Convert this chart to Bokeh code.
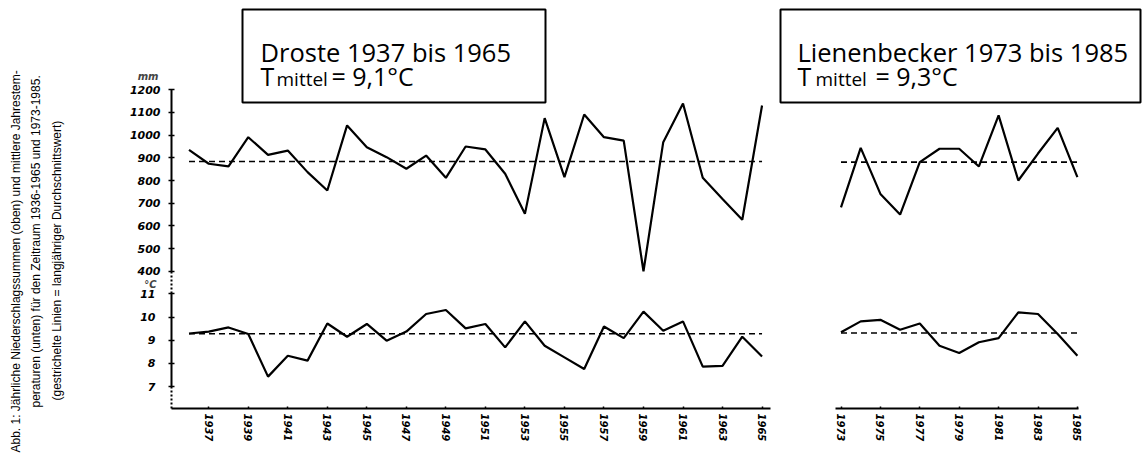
import math
from bokeh.plotting import figure
from bokeh.models import Range1d, LinearAxis, FixedTicker, Label, BoxAnnotation
from bokeh.embed import file_html
from bokeh.resources import INLINE

# ---------------- data ----------------
years_droste = list(range(1936, 1966))
precip_droste = [935, 874, 862, 991, 913, 932, 837, 756, 1043, 947,
                 903, 852, 910, 812, 950, 937, 830, 653, 1075, 815,
                 1091, 991, 976, 400, 969, 1140, 812, 719, 627, 1131]
temp_droste = [9.29, 9.37, 9.55, 9.27, 7.43, 8.33, 8.12, 9.72, 9.15, 9.70,
               8.98, 9.37, 10.13, 10.30, 9.51, 9.70, 8.69, 9.81, 8.76, 8.26,
               7.76, 9.59, 9.09, 10.23, 9.41, 9.81, 7.86, 7.89, 9.15, 8.30]

years_lien = list(range(1973, 1986))
precip_lien = [682, 944, 741, 650, 881, 940, 940, 862, 1087, 800, 919, 1032, 815]
temp_lien = [9.34, 9.81, 9.88, 9.45, 9.72, 8.76, 8.45, 8.91, 9.09, 10.20, 10.13, 9.27, 8.33]

mean_precip_droste = 884
mean_precip_lien = 881
mean_temp_droste = 9.28
mean_temp_lien = 9.31

mm_ticks = [400, 500, 600, 700, 800, 900, 1000, 1100, 1200]
temp_ticks = [7, 8, 9, 10, 11]
year_ticks_droste = list(range(1937, 1966, 2))
year_ticks_lien = list(range(1973, 1986, 2))

title_droste = "Droste 1937 bis 1965"
title_lien = "Lienenbecker 1973 bis 1985"
tm_droste = "= 9,1°C"
tm_lien = "= 9,3°C"
caption = [
    "Abb. 1: Jährliche Niederschlagssummen (oben) und mittlere Jahrestem-",
    "peraturen (unten) für den Zeitraum 1936-1965 und 1973-1985.",
    "(gestrichelte Linien = langjähriger Durchschnittswert)",
]

# ---------------- layout ----------------
W, H = 1145, 457
M = 0
PX_YR_L, X_1936 = 19.76, 188.5
PX_YR_R, X_1973 = 19.7, 840.5
PX_MM, Y_1200 = 0.2268, 89.3
PX_C, Y_11 = 23.2, 293.3

xl0 = 1936 - X_1936 / PX_YR_L
xr0 = 1973 - X_1973 / PX_YR_R
mm_top = 1200 + Y_1200 / PX_MM
c_top = 11 + Y_11 / PX_C

def lx(px):
    return xl0 + (px - M) / PX_YR_L

def my(py):
    return mm_top - (py - M) / PX_MM

def cy(py):
    return c_top - (py - M) / PX_C

p = figure(width=W, height=H,
           x_range=Range1d(xl0, xl0 + W / PX_YR_L),
           y_range=Range1d(mm_top - H / PX_MM, mm_top),
           x_axis_type=None, y_axis_type=None,
           toolbar_location=None, output_backend="svg", min_border=0)
p.extra_x_ranges = {"r": Range1d(xr0, xr0 + W / PX_YR_R)}
p.extra_y_ranges = {"t": Range1d(c_top - H / PX_C, c_top)}
p.outline_line_color = None
p.background_fill_color = "white"
p.border_fill_color = "white"

AX_X = lx(171)
BOTTOM = my(408)

def style_axis(ax, size="11px"):
    ax.axis_line_width = 2
    ax.axis_line_color = "black"
    ax.major_tick_line_width = 1.5
    ax.major_tick_in = 3
    ax.major_tick_out = 3
    ax.minor_tick_line_color = None
    ax.major_label_text_font = "DejaVu Sans"
    ax.major_label_text_font_style = "bold italic"
    ax.major_label_text_font_size = size
    ax.major_label_text_color = "black"

ax_mm = LinearAxis(ticker=FixedTicker(ticks=mm_ticks), bounds=(min(mm_ticks), max(mm_ticks)),
                   fixed_location=AX_X)
style_axis(ax_mm)
ax_mm.major_label_standoff = 8
p.add_layout(ax_mm, "left")

ax_t = LinearAxis(y_range_name="t", ticker=FixedTicker(ticks=temp_ticks),
                  bounds=(min(temp_ticks), max(temp_ticks)), fixed_location=AX_X)
style_axis(ax_t)
ax_t.major_label_standoff = 13
p.add_layout(ax_t, "left")

ax_xl = LinearAxis(ticker=FixedTicker(ticks=year_ticks_droste), bounds=(AX_X, lx(770)),
                   fixed_location=BOTTOM)
style_axis(ax_xl, "10px")
ax_xl.major_tick_in = 2
ax_xl.major_tick_out = 0
ax_xl.major_label_orientation = -math.pi / 2
ax_xl.major_label_standoff = 5
p.add_layout(ax_xl, "below")

ax_xr = LinearAxis(x_range_name="r", ticker=FixedTicker(ticks=year_ticks_lien),
                   bounds=(1972.72, 1985.06), fixed_location=BOTTOM)
style_axis(ax_xr, "10px")
ax_xr.major_tick_in = 2
ax_xr.major_tick_out = 0
ax_xr.major_label_orientation = -math.pi / 2
ax_xr.major_label_standoff = 5
p.add_layout(ax_xr, "below")

# dotted axis parts
p.segment(x0=[AX_X, AX_X], y0=[cy(271), cy(386)], x1=[AX_X, AX_X], y1=[11, cy(408)],
          y_range_name="t", line_color="black", line_width=2, line_dash="2 2")

# data lines
p.line(years_droste, precip_droste, line_color="black", line_width=2.2)
p.line(years_droste, temp_droste, y_range_name="t", line_color="black", line_width=2.2)
p.line(years_lien, precip_lien, x_range_name="r", line_color="black", line_width=2.2)
p.line(years_lien, temp_lien, x_range_name="r", y_range_name="t", line_color="black", line_width=2.2)

# mean lines
p.line([years_droste[0], years_droste[-1]], [mean_precip_droste] * 2,
       line_color="black", line_width=1.6, line_dash="6 4")
p.line([years_droste[0], years_droste[-1]], [mean_temp_droste] * 2, y_range_name="t",
       line_color="black", line_width=1.6, line_dash="6 4")
p.line([years_lien[0], years_lien[-1]], [mean_precip_lien] * 2, x_range_name="r",
       line_color="black", line_width=1.6, line_dash="6 4")
p.line([years_lien[0], years_lien[-1]], [mean_temp_lien] * 2, x_range_name="r", y_range_name="t",
       line_color="black", line_width=1.6, line_dash="6 4")

# unit labels
for txt, px, py in [("mm", 158, 76), ("°C", 156, 284)]:
    p.add_layout(Label(x=lx(px), y=my(py), text=txt, text_align="right",
                       text_baseline="middle", text_font="DejaVu Sans",
                       text_font_style="bold italic", text_font_size="10px"))

# boxes
for l, r in [(242, 545), (780, 1140)]:
    p.add_layout(BoxAnnotation(left=lx(l), right=lx(r), top=my(9), bottom=my(102),
                               fill_color="white", fill_alpha=1, line_color="black",
                               line_width=2, line_alpha=1))

FONT = "Open Sans"
def lab(txt, px, py, size):
    p.add_layout(Label(x=lx(px), y=my(py), text=txt, text_align="left",
                       text_baseline="alphabetic", text_font=FONT,
                       text_font_size=size, text_color="black"))

for (x0, title, tm, xm, xeq) in [(260, title_droste, tm_droste, 276, 331),
                                  (797, title_lien, tm_lien, 815, 875)]:
    lab(title, x0, 51, "25.5px")
    lab("T", x0, 75, "25px")
    lab("mittel", xm, 78, "19px")
    lab(tm, xeq, 75, "25px")

# caption (rotated)
for txt, px, py in zip(caption, [15, 35, 56], [452, 407, 400]):
    p.add_layout(Label(x=lx(px), y=my(py), text=txt, angle=math.pi / 2,
                       text_align="left", text_baseline="middle",
                       text_font="Liberation Sans", text_font_size="12px",
                       text_color="black"))

open("out.html", "w").write(file_html(p, INLINE))
